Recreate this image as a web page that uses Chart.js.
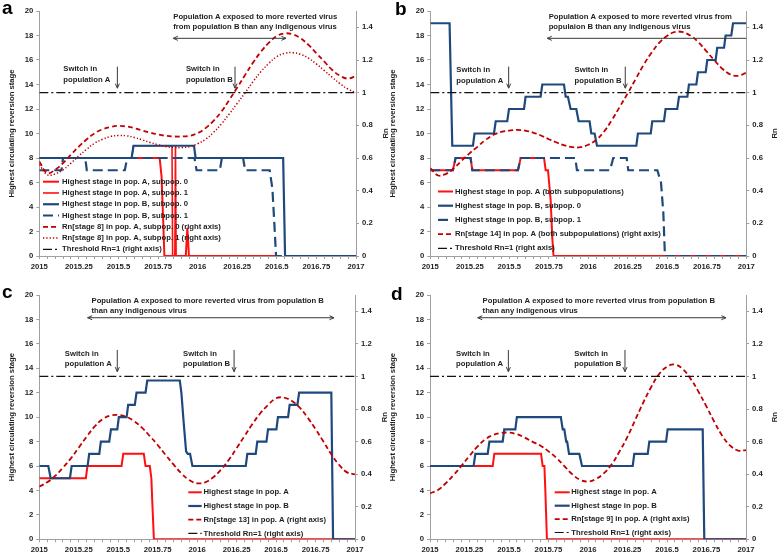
<!DOCTYPE html>
<html>
<head>
<meta charset="utf-8">
<script src="https://cdn.jsdelivr.net/npm/chart.js@4.4.1/dist/chart.umd.min.js"></script>
<style>
  body { margin: 0; background: #fff; }
  .panel { position: absolute; }
</style>
</head>
<body>
<canvas id="ca" class="panel" width="389" height="277" style="left:0;top:0"></canvas>
<canvas id="cb" class="panel" width="389" height="277" style="left:389px;top:0"></canvas>
<canvas id="cc" class="panel" width="389" height="278" style="left:0;top:277px"></canvas>
<canvas id="cd" class="panel" width="389" height="278" style="left:389px;top:277px"></canvas>
<script>
// ---- data ----
const xTickLabels = ['2015', '2015.25', '2015.5', '2015.75', '2016', '2016.25', '2016.5', '2016.75', '2017'];
const yTickLabels = ['0', '2', '4', '6', '8', '10', '12', '14', '16', '18', '20'];
const rnTickLabels = ['0', '0.2', '0.4', '0.6', '0.8', '1', '1.2', '1.4'];
const rnThreshold = 1;

// sample times of the Rn curves
const rnTimes = [2015, 2015.05, 2015.1, 2015.15, 2015.2, 2015.25, 2015.3, 2015.35, 2015.4, 2015.45,
  2015.5, 2015.55, 2015.6, 2015.65, 2015.7, 2015.75, 2015.8, 2015.85, 2015.9, 2015.95,
  2016, 2016.05, 2016.1, 2016.15, 2016.2, 2016.25, 2016.3, 2016.35, 2016.4, 2016.45,
  2016.5, 2016.55, 2016.6, 2016.65, 2016.7, 2016.75, 2016.8, 2016.85, 2016.9, 2016.95, 2017];

// panel a
const aPopA0 = [[2015, 8], [2015.76, 8], [2015.772, 6.5], [2015.782, 3], [2015.79, 0], [2015.925, 0], [2015.935, 2.3], [2015.945, 0], [2016.488, 0]];
const aPopA1 = [[2015, 8], [2015.583, 8], [2015.595, 9], [2015.838, 9], [2015.842, 0], [2015.856, 0], [2015.86, 9], [2015.864, 0], [2016.488, 0]];
const aPopB0 = [[2015, 8], [2015.583, 8], [2015.595, 9], [2015.977, 9], [2015.987, 8], [2016.54, 8], [2016.552, 0], [2017, 0]];
const aPopB1 = [[2015, 7], [2015.14, 7], [2015.15, 8], [2015.29, 8], [2015.3, 7], [2015.54, 7], [2015.555, 8], [2015.98, 8], [2015.993, 7],
  [2016.14, 7], [2016.153, 8], [2016.287, 8], [2016.3, 7], [2016.455, 7], [2016.472, 5.5], [2016.485, 2.5], [2016.495, 0], [2017, 0]];
const aRn0 = [0.579, 0.507, 0.528, 0.569, 0.62, 0.67, 0.715, 0.752, 0.776, 0.79, 0.797, 0.793, 0.783, 0.768, 0.756, 0.744, 0.736, 0.732, 0.732, 0.736,
  0.752, 0.783, 0.827, 0.884, 0.956, 1.031, 1.109, 1.184, 1.251, 1.306, 1.347, 1.363, 1.357, 1.333, 1.292, 1.241, 1.19, 1.139, 1.103, 1.086, 1.103];
const aRn1 = [0.56, 0.497, 0.503, 0.528, 0.569, 0.613, 0.654, 0.691, 0.715, 0.732, 0.738, 0.736, 0.726, 0.711, 0.695, 0.681, 0.67, 0.664, 0.664, 0.67,
  0.687, 0.715, 0.756, 0.809, 0.87, 0.935, 1.0, 1.068, 1.129, 1.18, 1.221, 1.241, 1.245, 1.235, 1.211, 1.176, 1.135, 1.094, 1.054, 1.021, 1.0];

// panel b
const bPopA = [[2015, 7], [2015.143, 7], [2015.16, 8], [2015.255, 8], [2015.266, 7], [2015.555, 7], [2015.572, 8], [2015.72, 8], [2015.73, 7],
  [2015.745, 7], [2015.762, 4.5], [2015.772, 1.5], [2015.78, 0], [2017, 0]];
const bPopB0 = [[2015, 19], [2015.122, 19], [2015.139, 9], [2015.27, 9], [2015.28, 10], [2015.403, 10], [2015.414, 11], [2015.487, 11], [2015.498, 12],
  [2015.593, 12], [2015.603, 13], [2015.698, 13], [2015.709, 14], [2015.846, 14], [2015.857, 13], [2015.871, 13], [2015.888, 12], [2015.924, 12],
  [2015.939, 11], [2016.008, 11], [2016.019, 10], [2016.04, 10], [2016.055, 9], [2016.304, 9], [2016.314, 10], [2016.395, 10], [2016.405, 11],
  [2016.479, 11], [2016.489, 12], [2016.563, 12], [2016.574, 13], [2016.627, 13], [2016.637, 14], [2016.684, 14], [2016.694, 15], [2016.743, 15],
  [2016.753, 16], [2016.806, 16], [2016.816, 17], [2016.859, 17], [2016.869, 18], [2016.905, 18], [2016.916, 19], [2017, 19]];
const bPopB1 = [[2015, 7], [2015.143, 7], [2015.16, 8], [2015.255, 8], [2015.266, 7], [2015.555, 7], [2015.572, 8], [2015.918, 8], [2015.928, 7],
  [2016.137, 7], [2016.158, 8], [2016.243, 8], [2016.253, 7], [2016.437, 7], [2016.46, 6], [2016.475, 3.5], [2016.485, 0], [2017, 0]];
const bRn = [0.538, 0.493, 0.503, 0.538, 0.585, 0.63, 0.67, 0.711, 0.742, 0.76, 0.768, 0.772, 0.768, 0.756, 0.738, 0.715, 0.695, 0.677, 0.666, 0.666,
  0.681, 0.711, 0.762, 0.834, 0.915, 0.997, 1.084, 1.17, 1.245, 1.306, 1.349, 1.372, 1.37, 1.347, 1.306, 1.251, 1.196, 1.145, 1.111, 1.103, 1.123];

// panel c
const cPopA = [[2015, 5], [2015.295, 5], [2015.305, 6], [2015.521, 6], [2015.532, 7], [2015.662, 7], [2015.673, 6], [2015.7, 6], [2015.71, 5],
  [2015.716, 3], [2015.726, 0], [2017, 0]];
const cPopB = [[2015, 6], [2015.057, 6], [2015.072, 5], [2015.194, 5], [2015.205, 6], [2015.306, 6], [2015.316, 7], [2015.38, 7], [2015.39, 8],
  [2015.443, 8], [2015.454, 9], [2015.494, 9], [2015.504, 10], [2015.553, 10], [2015.563, 11], [2015.605, 11], [2015.616, 12], [2015.673, 12],
  [2015.684, 13], [2015.89, 13], [2015.9, 12], [2015.915, 9.5], [2015.93, 7.2], [2015.94, 7], [2015.955, 7], [2015.97, 6], [2016.308, 6],
  [2016.318, 7], [2016.371, 7], [2016.381, 8], [2016.439, 8], [2016.449, 9], [2016.502, 9], [2016.512, 10], [2016.576, 10], [2016.586, 11],
  [2016.635, 11], [2016.646, 12], [2016.85, 12], [2016.861, 0], [2017, 0]];
const cRn = [0.323, 0.35, 0.389, 0.44, 0.497, 0.563, 0.63, 0.692, 0.737, 0.759, 0.763, 0.753, 0.726, 0.686, 0.634, 0.579, 0.518, 0.46, 0.405, 0.364,
  0.344, 0.35, 0.379, 0.426, 0.487, 0.559, 0.634, 0.708, 0.774, 0.825, 0.866, 0.87, 0.849, 0.808, 0.747, 0.677, 0.6, 0.522, 0.456, 0.411, 0.399];

// panel d
const dPopA = [[2015, 6], [2015.397, 6], [2015.407, 7], [2015.703, 7], [2015.713, 6], [2015.724, 6], [2015.73, 4], [2015.74, 0], [2017, 0]];
const dPopB = [[2015, 6], [2015.276, 6], [2015.287, 7], [2015.365, 7], [2015.376, 8], [2015.46, 8], [2015.47, 9], [2015.54, 9], [2015.55, 10],
  [2015.828, 10], [2015.84, 9], [2015.85, 9], [2015.862, 8], [2015.868, 8], [2015.88, 7], [2015.945, 7], [2015.962, 6], [2016.283, 6],
  [2016.293, 7], [2016.378, 7], [2016.388, 8], [2016.494, 8], [2016.504, 9], [2016.726, 9], [2016.736, 0], [2017, 0]];
const dRn = [0.282, 0.303, 0.344, 0.395, 0.452, 0.512, 0.569, 0.614, 0.641, 0.653, 0.655, 0.645, 0.624, 0.598, 0.575, 0.54, 0.5, 0.45, 0.4, 0.365,
  0.355, 0.37, 0.405, 0.46, 0.54, 0.63, 0.735, 0.84, 0.935, 1.015, 1.06, 1.073, 1.045, 0.985, 0.905, 0.815, 0.72, 0.635, 0.575, 0.545, 0.548];

// ---- styles ----
const FAMILY = '"Liberation Sans", Arial, sans-serif';
const FONT_SIZE = 7.7;
const TEXT = '#1e1e1e';
const AXIS = '#a0a0a0';
const RED = '#ff1010';
const BLUE = '#1f497d';
const DARKRED = '#c00000';
Chart.defaults.font.family = FAMILY;

// minor ticks every 0.05 years, labels every 0.25
const xMinor = [];
for (let i = 0; i <= 40; i++) xMinor.push(+(2015 + i * 0.05).toFixed(2));

function pairs(p) { return p.map(v => ({ x: v[0], y: v[1] })); }
function rnSeries(vals) { return rnTimes.map((t, i) => ({ x: t, y: vals[i] })); }

function ds(label, data, color, width, dash, axis, tension) {
  return {
    label, data, borderColor: color, backgroundColor: color, borderWidth: width,
    borderDash: dash || [], pointRadius: 0, tension: tension || 0, fill: false,
    yAxisID: axis || 'y'
  };
}
function threshold() {
  return ds('Threshold Rn=1 (right axis)', [{ x: 2015, y: rnThreshold }, { x: 2017, y: rnThreshold }], '#111', 1.2, [9, 3, 2, 3], 'y1');
}

function arrowHead(ctx, x, y, ang) {
  const L = 5, w = 0.42;
  ctx.beginPath();
  ctx.moveTo(x - L * Math.cos(ang - w), y - L * Math.sin(ang - w));
  ctx.lineTo(x, y);
  ctx.lineTo(x - L * Math.cos(ang + w), y - L * Math.sin(ang + w));
  ctx.stroke();
}

const decorPlugin = {
  id: 'decor',
  afterDraw(chart, args, o) {
    const { ctx, chartArea: ca } = chart;
    const xs = chart.scales.x, ys = chart.scales.y;
    const px = v => xs.getPixelForValue(v), py = v => ys.getPixelForValue(v);
    const font = 'bold ' + FONT_SIZE + 'px ' + FAMILY;
    ctx.save();
    ctx.font = font;
    ctx.fillStyle = TEXT;
    ctx.textBaseline = 'middle';
    ctx.textAlign = 'left';
    o.notes.forEach(n => ctx.fillText(n.text, px(n.x), py(n.y)));

    ctx.strokeStyle = '#3a3a3a';
    ctx.lineWidth = 1;
    o.arrows.forEach(a => {
      const x1 = px(a.x1), y1 = py(a.y1), x2 = px(a.x2), y2 = py(a.y2);
      ctx.beginPath(); ctx.moveTo(x1, y1); ctx.lineTo(x2, y2); ctx.stroke();
      const ang = Math.atan2(y2 - y1, x2 - x1);
      if (a.end) arrowHead(ctx, x2, y2, ang);
      if (a.start) arrowHead(ctx, x1, y1, ang + Math.PI);
    });

    // legend inside the plot
    const lg = o.legend;
    chart.data.datasets.forEach((d, k) => {
      const yy = lg.y + k * lg.dy;
      ctx.save();
      ctx.strokeStyle = d.borderColor;
      ctx.lineWidth = d.borderWidth;
      ctx.setLineDash(d.borderDash);
      ctx.beginPath(); ctx.moveTo(lg.x, yy); ctx.lineTo(lg.x + lg.len, yy); ctx.stroke();
      ctx.restore();
      ctx.fillText(d.label, lg.tx, yy);
    });

    // axis titles
    ctx.textAlign = 'center';
    const cy = (ca.top + ca.bottom) / 2;
    ctx.save(); ctx.translate(o.leftTitleX, cy); ctx.rotate(-Math.PI / 2);
    ctx.fillText('Highest circulating reversion stage', 0, 0); ctx.restore();
    ctx.save(); ctx.translate(o.rightTitleX, cy); ctx.rotate(-Math.PI / 2);
    ctx.fillText('Rn', 0, 0); ctx.restore();

    // panel letter
    ctx.font = 'bold 19px ' + FAMILY;
    ctx.fillStyle = '#000';
    ctx.textAlign = 'left';
    ctx.textBaseline = 'alphabetic';
    ctx.fillText(o.letter, o.letterX, o.letterY);
    ctx.restore();
  }
};

function makeChart(id, datasets, geo, decor) {
  datasets.forEach((d, i) => { d.order = datasets.length - i; });
  const tickFont = { family: FAMILY, size: FONT_SIZE, weight: 'bold' };
  return new Chart(document.getElementById(id), {
    type: 'line',
    data: { datasets },
    options: {
      responsive: false,
      animation: false,
      events: [],
      layout: { padding: { top: geo.top, left: 0, right: 0, bottom: 0 } },
      plugins: { legend: { display: false }, tooltip: { enabled: false }, decor },
      scales: {
        x: {
          type: 'linear', min: 2015, max: 2017,
          afterBuildTicks: s => { s.ticks = xMinor.map(v => ({ value: v })); },
          afterFit: s => { s.height = geo.xH; },
          ticks: {
            autoSkip: false, maxRotation: 0, minRotation: 0, padding: 3, color: TEXT, font: tickFont,
            callback: (v, i) => (i % 5 === 0 ? xTickLabels[i / 5] : '')
          },
          grid: { drawOnChartArea: false, tickLength: 3, color: AXIS },
          border: { color: AXIS }
        },
        y: {
          position: 'left', min: 0, max: 20,
          afterBuildTicks: s => { s.ticks = yTickLabels.map(l => ({ value: +l })); },
          afterFit: s => { s.width = geo.yW; },
          ticks: { padding: 3, color: TEXT, font: tickFont, callback: (v, i) => yTickLabels[i] },
          grid: { drawOnChartArea: false, tickLength: 3, color: AXIS },
          border: { color: AXIS }
        },
        y1: {
          position: 'right', min: 0, max: 1.5,
          afterBuildTicks: s => { s.ticks = rnTickLabels.map(l => ({ value: +l })); },
          afterFit: s => { s.width = geo.y1W; },
          ticks: { padding: 3, color: TEXT, font: tickFont, callback: (v, i) => rnTickLabels[i] },
          grid: { drawOnChartArea: false, tickLength: 3, color: AXIS },
          border: { color: AXIS }
        }
      }
    },
    plugins: [decorPlugin]
  });
}

// ---- panel a ----
makeChart('ca', [
  ds('Highest stage in pop. A, subpop. 0', pairs(aPopA0), RED, 2),
  ds('Highest stage in pop. A, subpop. 1', pairs(aPopA1), RED, 1.6),
  ds('Highest stage in pop. B, subpop. 0', pairs(aPopB0), BLUE, 2.2),
  ds('Highest stage in pop. B, subpop. 1', pairs(aPopB1), BLUE, 2.2, [10, 5]),
  ds('Rn[stage 8] in pop. A, subpop. 0 (right axis)', rnSeries(aRn0), DARKRED, 1.8, [5, 3], 'y1', 0.4),
  ds('Rn[stage 8] in pop. A, subpop. 1 (right axis)', rnSeries(aRn1), DARKRED, 1.5, [1.3, 2], 'y1', 0.4),
  threshold()
], { top: 11, xH: 21, yW: 39.3, y1W: 33 }, {
  letter: 'a', letterX: 2, letterY: 14, leftTitleX: 12, rightTitleX: 386,
  notes: [
    { text: 'Population A exposed to more reverted virus', x: 2015.846, y: 19.54 },
    { text: 'from population B than any indigenous virus', x: 2015.846, y: 18.72 },
    { text: 'Switch in', x: 2015.152, y: 15.24 }, { text: 'population A', x: 2015.152, y: 14.38 },
    { text: 'Switch in', x: 2015.926, y: 15.24 }, { text: 'population B', x: 2015.926, y: 14.38 }
  ],
  arrows: [
    { x1: 2015.846, y1: 17.77, x2: 2016.558, y2: 17.77, start: true, end: true },
    { x1: 2015.493, y1: 15.46, x2: 2015.493, y2: 13.7, end: true },
    { x1: 2016.236, y1: 15.46, x2: 2016.236, y2: 13.7, end: true }
  ],
  legend: { x: 43, len: 16, tx: 62, y: 181.7, dy: 11.27 }
});

// ---- panel b ----
makeChart('cb', [
  ds('Highest stage in pop. A (both subpopulations)', pairs(bPopA), RED, 2),
  ds('Highest stage in pop. B, subpop. 0', pairs(bPopB0), BLUE, 2.2),
  ds('Highest stage in pop. B, subpop. 1', pairs(bPopB1), BLUE, 2.2, [10, 5]),
  ds('Rn[stage 14] in pop. A (both subpopulations) (right axis)', rnSeries(bRn), DARKRED, 1.8, [5, 3], 'y1', 0.4),
  threshold()
], { top: 11, xH: 21, yW: 41.3, y1W: 31.7 }, {
  letter: 'b', letterX: 6, letterY: 15, leftTitleX: 4, rightTitleX: 386,
  notes: [
    { text: 'Population A exposed to more reverted virus from', x: 2015.749, y: 19.54 },
    { text: 'populaion B than any indigenous virus', x: 2015.749, y: 18.68 },
    { text: 'Switch in', x: 2015.165, y: 15.19 }, { text: 'population A', x: 2015.165, y: 14.32 },
    { text: 'Switch in', x: 2015.913, y: 15.19 }, { text: 'population B', x: 2015.913, y: 14.32 }
  ],
  arrows: [
    { x1: 2015.74, y1: 17.77, x2: 2017, y2: 17.77, start: true },
    { x1: 2015.496, y1: 15.46, x2: 2015.496, y2: 13.7, end: true },
    { x1: 2016.234, y1: 15.46, x2: 2016.234, y2: 13.7, end: true }
  ],
  legend: { x: 49, len: 15, tx: 66, y: 191.5, dy: 14.2 }
});

// ---- panel c ----
makeChart('cc', [
  ds('Highest stage in pop. A', pairs(cPopA), RED, 2),
  ds('Highest stage in pop. B', pairs(cPopB), BLUE, 2.2),
  ds('Rn[stage 13] in pop. A (right axis)', rnSeries(cRn), DARKRED, 1.8, [5, 3], 'y1', 0.4),
  threshold()
], { top: 18, xH: 15.7, yW: 39.3, y1W: 34 }, {
  letter: 'c', letterX: 2, letterY: 21, leftTitleX: 12, rightTitleX: 385,
  notes: [
    { text: 'Population A exposed to more reverted virus from population B', x: 2015.331, y: 19.54 },
    { text: 'than any indigenous virus', x: 2015.331, y: 18.72 },
    { text: 'Switch in', x: 2015.162, y: 15.22 }, { text: 'population A', x: 2015.162, y: 14.4 },
    { text: 'Switch in', x: 2015.911, y: 15.22 }, { text: 'population B', x: 2015.911, y: 14.4 }
  ],
  arrows: [
    { x1: 2015.306, y1: 18.14, x2: 2016.867, y2: 18.14, start: true, end: true },
    { x1: 2015.494, y1: 15.5, x2: 2015.494, y2: 13.72, end: true },
    { x1: 2016.234, y1: 15.5, x2: 2016.234, y2: 13.72, end: true }
  ],
  legend: { x: 188.3, len: 13.4, tx: 203.5, y: 215.3, dy: 13.7 }
});

// ---- panel d ----
makeChart('cd', [
  ds('Highest stage in pop. A', pairs(dPopA), RED, 2),
  ds('Highest stage in pop. B', pairs(dPopB), BLUE, 2.2),
  ds('Rn[stage 9] in pop. A (right axis)', rnSeries(dRn), DARKRED, 1.8, [5, 3], 'y1', 0.4),
  threshold()
], { top: 18, xH: 15.7, yW: 41, y1W: 32 }, {
  letter: 'd', letterX: 2, letterY: 23, leftTitleX: 4, rightTitleX: 386,
  notes: [
    { text: 'Population A exposed to more reverted virus from population B', x: 2015.333, y: 19.54 },
    { text: 'than any indigenous virus', x: 2015.333, y: 18.72 },
    { text: 'Switch in', x: 2015.165, y: 15.22 }, { text: 'population A', x: 2015.165, y: 14.4 },
    { text: 'Switch in', x: 2015.913, y: 15.22 }, { text: 'population B', x: 2015.913, y: 14.4 }
  ],
  arrows: [
    { x1: 2015.302, y1: 18.14, x2: 2016.873, y2: 18.14, start: true, end: true },
    { x1: 2015.496, y1: 15.5, x2: 2015.496, y2: 13.72, end: true },
    { x1: 2016.234, y1: 15.5, x2: 2016.234, y2: 13.72, end: true }
  ],
  legend: { x: 165.7, len: 15, tx: 182.3, y: 215.3, dy: 13.4 }
});
</script>
</body>
</html>
